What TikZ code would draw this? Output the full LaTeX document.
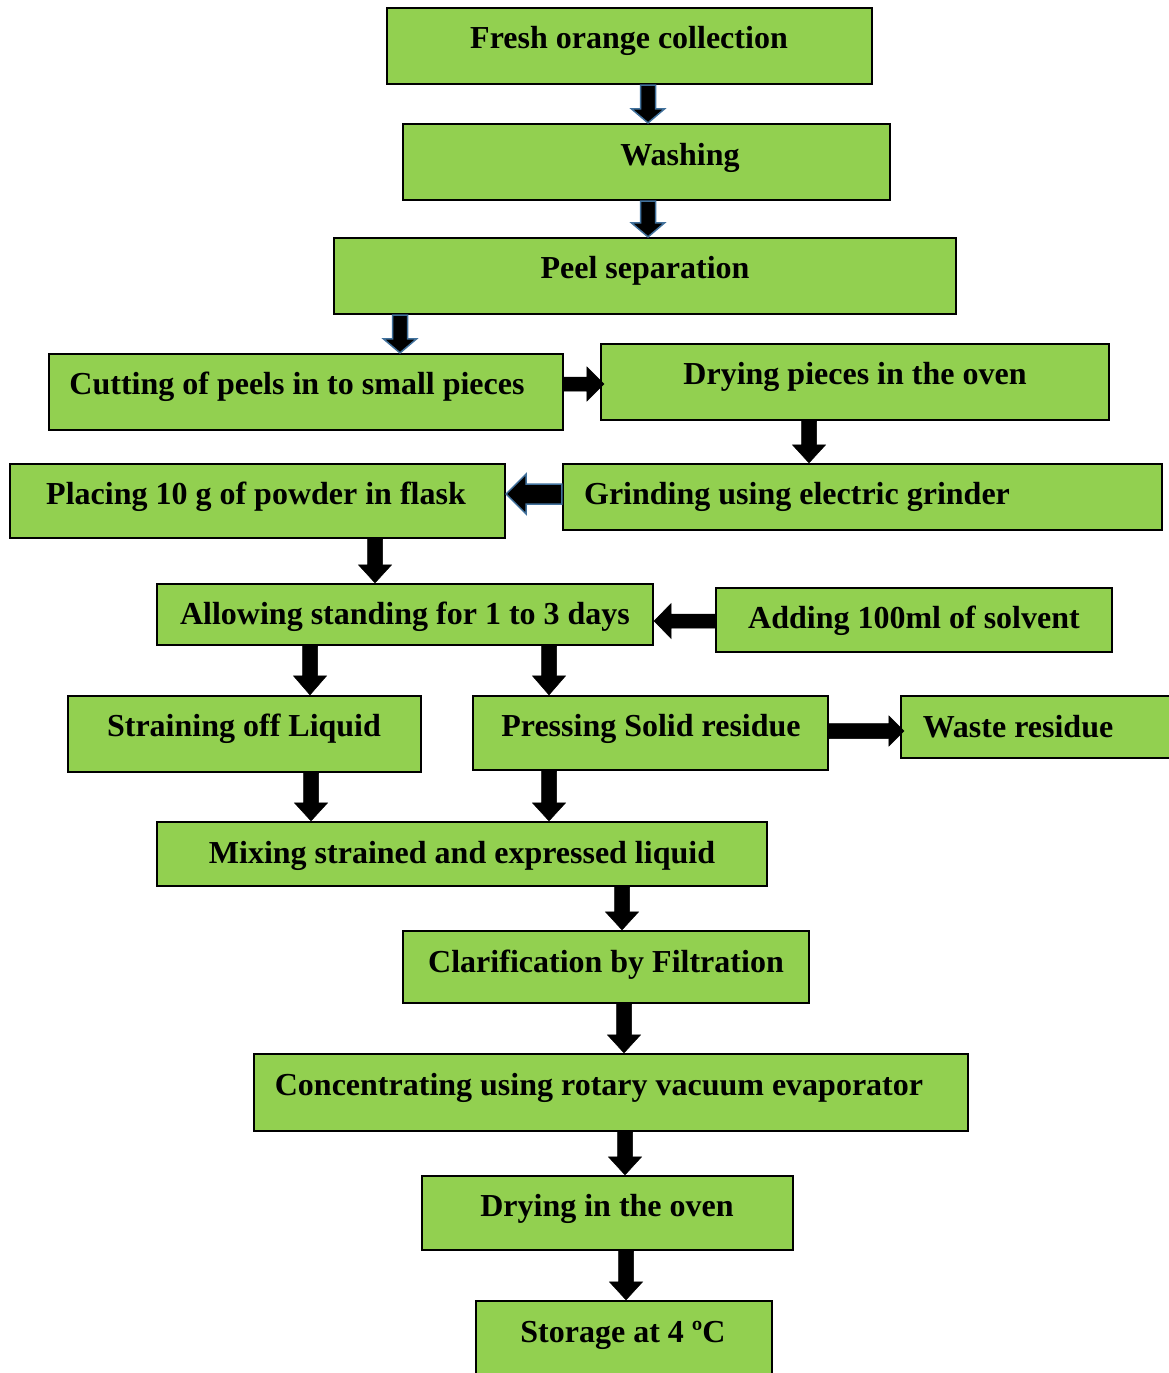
\documentclass[tikz,border=0pt]{standalone}
\usepackage{fontspec}
\setmainfont{Liberation Serif}
\usetikzlibrary{calc}
\definecolor{boxgreen}{HTML}{92D050}
\definecolor{arrowblue}{HTML}{41719C}
\tikzset{
  box/.style={draw=black, line width=2.2pt, fill=boxgreen, rectangle, inner sep=0pt},
  lbl/.style={font=\fontsize{32}{34}\selectfont\bfseries, inner sep=0pt, anchor=base},
  blk/.style={fill=black, draw=black, line width=0.5pt, line join=miter},
  blu/.style={fill=black, draw=arrowblue, line width=1.5pt, line join=miter},
}
% down arrow: from node #1 south to node #2 north at x=#3 ; head length #4 ; style #5
\newcommand\darrow[5]{%
  \path[#5] let \p1=(#1.south), \p2=(#2.north) in
    (#3pt-7.5pt,\y1) -- (#3pt+7.5pt,\y1) -- (#3pt+7.5pt,\y2+#4pt) -- (#3pt+16.5pt,\y2+#4pt)
    -- (#3pt,\y2) -- (#3pt-16.5pt,\y2+#4pt) -- (#3pt-7.5pt,\y2+#4pt) -- cycle;}
% horizontal arrows at y=#3 (px, downwards); #4 shaft half, #5 head half, #6 head length, #7 style
\newcommand\rarrow[7]{%
  \path[#7] let \p1=(#1.east), \p2=(#2.west) in
    (\x1,-#3pt+#4pt) -- (\x2-#6pt+4pt,-#3pt+#4pt) -- (\x2-#6pt+4pt,-#3pt+#5pt) -- (\x2+4pt,-#3pt)
    -- (\x2-#6pt+4pt,-#3pt-#5pt) -- (\x2-#6pt+4pt,-#3pt-#4pt) -- (\x1,-#3pt-#4pt) -- cycle;}
\newcommand\larrow[7]{%
  \path[#7] let \p1=(#1.west), \p2=(#2.east) in
    (\x1,-#3pt+#4pt) -- (\x2+#6pt,-#3pt+#4pt) -- (\x2+#6pt,-#3pt+#5pt) -- (\x2,-#3pt)
    -- (\x2+#6pt,-#3pt-#5pt) -- (\x2+#6pt,-#3pt-#4pt) -- (\x1,-#3pt-#4pt) -- cycle;}
\begin{document}
\begin{tikzpicture}[x=1pt,y=-1pt]
\useasboundingbox (0,0) rectangle (1169,1373);
\clip (0,0) rectangle (1169,1373);
% boxes: corners in px
\newcommand\mkbox[5]{\node[box, minimum width=#4-#2, minimum height=#5-#3] (#1) at ({(#2+#4)/2},{(#3+#5)/2}) {};}
\mkbox{b1}{387}{8}{872}{84}
\mkbox{b2}{403}{124}{890}{200}
\mkbox{b3}{334}{238}{956}{314}
\mkbox{b4}{49}{354}{563}{430}
\mkbox{b5}{601}{344}{1109}{420}
\mkbox{b6}{10}{464}{505}{538}
\mkbox{b7}{563}{464}{1162}{530}
\mkbox{b8}{157}{584}{653}{645}
\mkbox{b9}{716}{588}{1112}{652}
\mkbox{b10}{68}{696}{421}{772}
\mkbox{b11}{473}{696}{828}{770}
\mkbox{b12}{901}{696}{1172}{758}
\mkbox{b13}{157}{822}{767}{886}
\mkbox{b14}{403}{931}{809}{1003}
\mkbox{b15}{254}{1054}{968}{1131}
\mkbox{b16}{422}{1176}{793}{1250}
\mkbox{b17}{476}{1301}{772}{1380}
% labels
\node[lbl] (t1) at (629,48) {Fresh orange collection};
\node[lbl] (t2) at (680,165) {Washing};
\node[lbl] (t3) at (645,278) {Peel separation};
\node[lbl] (t4) at (297,394) {Cutting of peels in to small pieces};
\node[lbl] (t5) at (855,384) {Drying pieces in the oven};
\node[lbl] (t6) at (256,504) {Placing 10 g of powder in flask};
\node[lbl] (t7) at (797,504) {Grinding using electric grinder};
\node[lbl] (t8) at (405,624) {Allowing standing for 1 to 3 days};
\node[lbl] (t9) at (914,628) {Adding 100ml of solvent};
\node[lbl] (t10) at (244,736) {Straining off Liquid};
\node[lbl] (t11) at (651,736) {Pressing Solid residue};
\node[lbl] (t12) at (1018,737) {Waste residue};
\node[lbl] (t13) at (462,863) {Mixing strained and expressed liquid};
\node[lbl] (t14) at (606,972) {Clarification by Filtration};
\node[lbl] (t15) at (599,1095) {Concentrating using rotary vacuum evaporator};
\node[lbl] (t16) at (607,1216) {Drying in the oven};
\node[lbl] (t17) at (623,1342) {Storage at 4 ºC};
% arrows
\darrow{b1}{b2}{648}{14}{blu}
\darrow{b2}{b3}{648}{14}{blu}
\darrow{b3}{b4}{400}{14}{blu}
\rarrow{b4}{b5}{384}{7}{17}{17}{blk}
\darrow{b5}{b7}{809}{18}{blk}
\larrow{b7}{b6}{494}{10}{20}{20}{blu}
\darrow{b6}{b8}{375}{18}{blk}
\larrow{b9}{b8}{621}{7}{17.5}{17}{blk}
\darrow{b8}{b10}{310}{19}{blk}
\darrow{b8}{b11}{549}{19}{blk}
\rarrow{b11}{b12}{731}{7.5}{15}{15}{blk}
\darrow{b10}{b13}{311}{18}{blk}
\darrow{b11}{b13}{549}{18}{blk}
\darrow{b13}{b14}{622}{18}{blk}
\darrow{b14}{b15}{624}{18}{blk}
\darrow{b15}{b16}{625}{18}{blk}
\darrow{b16}{b17}{626}{18}{blk}
\end{tikzpicture}
\end{document}
